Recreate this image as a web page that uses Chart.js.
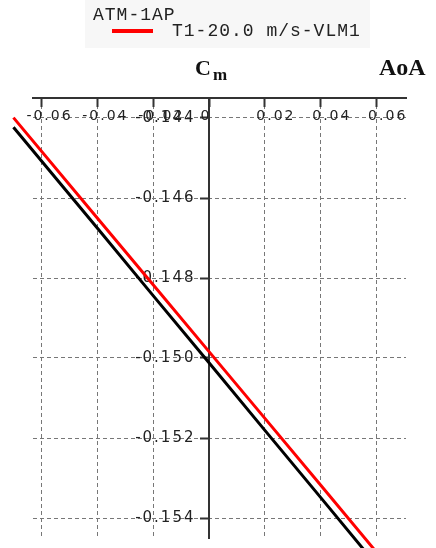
<!DOCTYPE html>
<html>
<head>
<meta charset="utf-8">
<script src="https://cdn.jsdelivr.net/npm/chart.js@4.4.0/dist/chart.umd.min.js"></script>
<style>
    body { margin: 0; background: #fff; }
</style>
</head>
<body>
<canvas id="cmChart" width="436" height="548"></canvas>
<script>
// values
var aoa = [-0.07, -0.04, -0.02, 0, 0.02, 0.04, 0.06, 0.07];
var cmT1 = [-0.14399, -0.14650, -0.14817, -0.14984, -0.15151, -0.15318, -0.15486, -0.15569];
var cmRef = [-0.14423, -0.14675, -0.14844, -0.15012, -0.15181, -0.15349, -0.15518, -0.15602];

var xTicks = [-0.06, -0.04, -0.02, 0, 0.02, 0.04, 0.06];
var xTickLabels = ['-0.06', '-0.04', '-0.02', '0', '0.02', '0.04', '0.06'];
var yTicks = [-0.144, -0.146, -0.148, -0.150, -0.152, -0.154];
var yTickLabels = ['-0.144', '-0.146', '-0.148', '-0.150', '-0.152', '-0.154'];

var legendTitle = 'ATM-1AP';
var seriesName = 'T1-20.0 m/s-VLM1';

function toPoints(xs, ys) {
    return xs.map(function (x, i) {
        return { x: x, y: ys[i] };
    });
}

// keep the axes from eating into the plot area
function noScalePadding(scale) {
    scale.paddingLeft = 0;
    scale.paddingRight = 0;
    scale.paddingTop = 0;
    scale.paddingBottom = 0;
}

var overlayPlugin = {
    id: 'overlay',
    beforeDraw: function (chart) {
        // the tick labels in the picture are spaced out
        chart.ctx.letterSpacing = '2px';
    },
    beforeDatasetsDraw: function (chart) {
        chart.ctx.letterSpacing = '0px';
    },
    afterDraw: function (chart) {
        var ctx = chart.ctx;
        var x0 = chart.scales.x.getPixelForValue(0);
        var ds = chart.data.datasets[0];
        ctx.save();

        // legend
        ctx.fillStyle = '#f7f7f7';
        ctx.fillRect(85, 0, 285, 48);
        ctx.letterSpacing = '1px';
        ctx.font = '18px "Liberation Mono"';
        ctx.fillStyle = '#222';
        ctx.textBaseline = 'alphabetic';
        ctx.fillText(legendTitle, 93, 20);
        ctx.fillText(ds.label, 172, 36);
        ctx.strokeStyle = ds.borderColor;
        ctx.lineWidth = 4;
        ctx.beginPath();
        ctx.moveTo(112, 31);
        ctx.lineTo(153, 31);
        ctx.stroke();

        // axis titles
        ctx.letterSpacing = '0px';
        ctx.fillStyle = '#111';
        ctx.font = 'bold 22px "Liberation Serif"';
        ctx.fillText('C', x0 - 14, 75);
        ctx.font = 'bold 17px "Liberation Serif"';
        ctx.fillText('m', x0 + 4, 80);
        ctx.font = 'bold 24px "Liberation Serif"';
        ctx.fillText('AoA', chart.chartArea.right - 27, 75);

        ctx.restore();
    }
};

var ctxCm = document.getElementById('cmChart').getContext('2d');
var cmChart = new Chart(ctxCm, {
    type: 'scatter',
    data: {
        datasets: [{
            label: seriesName,
            data: toPoints(aoa, cmT1),
            showLine: true,
            borderColor: '#ff0000',
            borderWidth: 3,
            pointRadius: 0,
            clip: false
        }, {
            label: '',
            data: toPoints(aoa, cmRef),
            showLine: true,
            borderColor: '#000000',
            borderWidth: 3,
            pointRadius: 0,
            clip: false
        }]
    },
    options: {
        responsive: false,
        animation: false,
        layout: {
            autoPadding: false,
            padding: { top: 98, left: 33, right: 30, bottom: 10 }
        },
        plugins: {
            legend: { display: false },
            title: { display: false },
            tooltip: { enabled: false }
        },
        scales: {
            x: {
                type: 'linear',
                min: -0.063,
                max: 0.0705,
                position: { y: -0.1435 },
                afterBuildTicks: function (scale) {
                    scale.ticks = xTicks.map(function (v) { return { value: v }; });
                },
                afterFit: noScalePadding,
                grid: {
                    color: '#777',
                    lineWidth: 1,
                    tickLength: 8,
                    tickColor: '#333',
                    tickWidth: 2,
                    tickBorderDash: []
                },
                border: { display: true, color: '#333', width: 2, dash: [4, 3] },
                ticks: {
                    align: 'start',
                    labelOffset: -15,
                    padding: 2,
                    color: '#222',
                    font: { family: 'DejaVu Sans', size: 14 },
                    maxRotation: 0,
                    autoSkip: false,
                    callback: function (value, index) {
                        var label = xTickLabels[index];
                        return label.charAt(0) === '-' ? label : ' ' + label;
                    }
                }
            },
            y: {
                type: 'linear',
                min: -0.1545,
                max: -0.1435,
                position: { x: 0 },
                afterBuildTicks: function (scale) {
                    scale.ticks = yTicks.map(function (v) { return { value: v }; });
                },
                afterFit: noScalePadding,
                grid: {
                    color: '#777',
                    lineWidth: 1,
                    tickLength: 8,
                    tickColor: '#333',
                    tickWidth: 2,
                    tickBorderDash: []
                },
                border: { display: true, color: '#333', width: 2, dash: [4, 3] },
                ticks: {
                    padding: 0,
                    color: '#222',
                    font: { family: 'DejaVu Sans', size: 15 },
                    autoSkip: false,
                    callback: function (value, index) {
                        // labels sit right-aligned on the axis, so pad them off it
                        return yTickLabels[index] + '  ';
                    }
                }
            }
        }
    },
    plugins: [overlayPlugin]
});
</script>
</body>
</html>
